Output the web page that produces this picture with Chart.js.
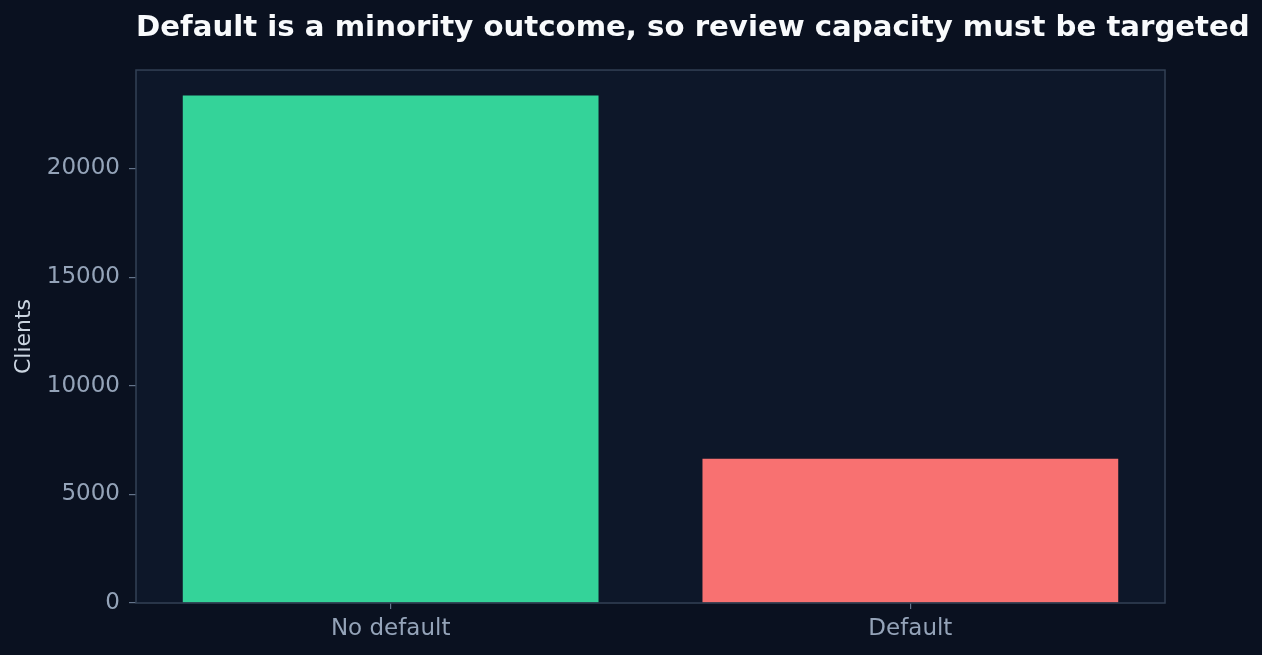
<!DOCTYPE html>
<html>
<head>
<meta charset="utf-8">
<script src="https://cdn.jsdelivr.net/npm/chart.js@4/dist/chart.umd.min.js"></script>
<style>
  html, body { margin: 0; padding: 0; background: #0a1120; }
  #wrap { width: 1262px; height: 655px; position: relative; }
</style>
</head>
<body>
<div id="wrap"><canvas id="chart"></canvas></div>
<script>
// Class balance of the default target
const categories = ['No default', 'Default'];
const clients = [23364, 6636];
const barColors = ['#34d399', '#f87171'];
const yTicks = [0, 5000, 10000, 15000, 20000];
const titleText = 'Default is a minority outcome, so review capacity must be targeted';

const FIG_BG = '#0a1120';
const AX_BG = '#0d1729';
const SPINE = '#334155';
const TICK = '#94a3b8';
const FONT = "'DejaVu Sans', 'Liberation Sans', sans-serif";

// matplotlib-like margins: bars span -0.4..n-0.6, plus 5% padding each side
const span = categories.length - 1 + 0.8;
const xMin = -0.4 - 0.05 * span;
const xMax = categories.length - 1 + 0.4 + 0.05 * span;
const yMax = Math.max(...clients) * 1.05;

// background, axes face, spines, and left-aligned title position
const frame = {
  id: 'frame',
  afterLayout(chart) {
    const t = chart.titleBlock;
    if (t) { t.left = chart.chartArea.left; t.right = chart.width; }
  },
  beforeDraw(chart) {
    const { ctx, chartArea: a } = chart;
    ctx.save();
    ctx.fillStyle = FIG_BG;
    ctx.fillRect(0, 0, chart.width, chart.height);
    ctx.fillStyle = AX_BG;
    ctx.fillRect(a.left, a.top, a.right - a.left, a.bottom - a.top);
    ctx.restore();
  },
  afterDatasetsDraw(chart) {
    const { ctx, chartArea: a } = chart;
    ctx.save();
    ctx.strokeStyle = SPINE;
    ctx.lineWidth = 1.5;
    ctx.strokeRect(a.left, a.top, a.right - a.left, a.bottom - a.top);
    ctx.restore();
  },
};

new Chart(document.getElementById('chart'), {
  type: 'bar',
  data: {
    datasets: [{
      data: clients.map((v, i) => ({ x: i, y: v })),
      backgroundColor: barColors,
      borderWidth: 0,
      barPercentage: 0.8,
      categoryPercentage: 1,
    }],
  },
  plugins: [frame],
  options: {
    responsive: true,
    maintainAspectRatio: false,
    animation: false,
    layout: { padding: { left: 0, right: 97, top: 0, bottom: 0 } },
    plugins: {
      legend: { display: false },
      tooltip: { enabled: false },
      title: {
        display: true,
        text: titleText,
        align: 'start',
        color: '#f8fafc',
        font: { family: FONT, size: 29.2, weight: 'bold', lineHeight: 1.2 },
        padding: { top: 11, bottom: 24 },
      },
    },
    scales: {
      x: {
        type: 'linear',
        offset: false,
        min: xMin,
        max: xMax,
        afterBuildTicks: s => { s.ticks = categories.map((_, i) => ({ value: i })); },
        afterFit: s => { s.height = 52; },
        ticks: {
          callback: v => categories[v],
          color: TICK,
          font: { family: FONT, size: 23 },
          padding: 6,
          maxRotation: 0,
        },
        grid: { offset: false, drawOnChartArea: false, drawTicks: true, tickLength: 6, color: '#64748b', lineWidth: 1.2 },
        border: { display: false },
      },
      y: {
        min: 0,
        max: yMax,
        afterBuildTicks: s => { s.ticks = yTicks.map(v => ({ value: v })); },
        afterFit: s => { s.width = 136; },
        ticks: {
          callback: v => String(v),
          color: TICK,
          font: { family: FONT, size: 23 },
          padding: 9,
        },
        grid: { drawOnChartArea: false, drawTicks: true, tickLength: 7, color: '#64748b', lineWidth: 1.2 },
        border: { display: false },
        title: {
          display: true,
          text: 'Clients',
          color: '#cbd5e1',
          font: { family: FONT, size: 22, lineHeight: 1.2 },
          padding: { top: 11, bottom: 0 },
        },
      },
    },
  },
});
</script>
</body>
</html>
